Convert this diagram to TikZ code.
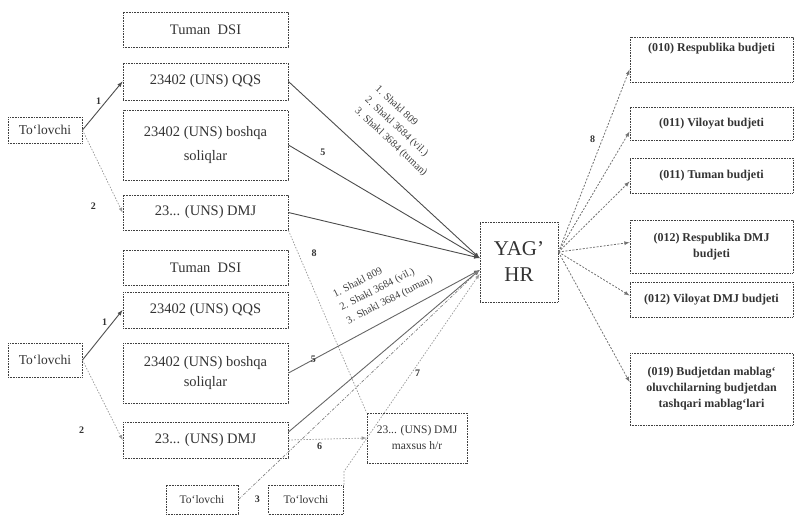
\documentclass[tikz,border=0pt]{standalone}
\usepackage{fontspec}
\setmainfont{Liberation Serif}
\begin{document}
\begin{tikzpicture}[
        x=1pt, y=-1pt, % координаты в пикселях, ось y вниз
        schet/.style={draw=black!75, line width=0.9pt, dash pattern=on 0.9pt off 0.7pt, text=black!80,
            minimum width=165pt, align=center, inner sep=2pt, font=\fontsize{14.5}{24}\selectfont}, % счета
        tolov/.style={schet, minimum width=74pt, font=\fontsize{13.5}{16}\selectfont}, % плательщик
        budjet/.style={schet, minimum width=163pt, font=\bfseries\fontsize{12}{16}\selectfont}, % бюджеты справа
        potok/.style={draw=black!70, line width=0.9pt, -latex}, % сплошные стрелки
        punktir/.style={draw=black!40, line width=0.7pt, dash pattern=on 1.5pt off 1.5pt, -latex}, % пунктир
        vyhod/.style={draw=black!55, line width=0.8pt, dash pattern=on 2pt off 1.5pt, -latex}, % стрелки к бюджетам
        metka/.style={font=\bfseries\fontsize{10}{12}\selectfont, text=black!80, inner sep=1pt}, % номера потоков
        podpis/.style={align=left, inner sep=0pt, text=black!75, font=\fontsize{10.5}{15}\selectfont},
    ]
    \useasboundingbox (0,0) rectangle (794,515);

    % верхняя группа
    \node[schet, minimum height=35pt] (dsiA) at (205.5,29.5) {Tuman\ \ DSI};
    \node[schet, minimum height=37pt] (qqsA) at (205.5,81.5) {23402 (UNS) QQS};
    \node[schet, minimum height=70pt] (bosA) at (205.5,145) {23402 (UNS) boshqa\\soliqlar};
    \node[schet, minimum height=35pt] (dmjA) at (205.5,212.5) {23... (UNS) DMJ};
    \node[tolov, minimum height=26pt] (tolA) at (45,130) {To‘lovchi};

    % нижняя группа
    \node[schet, minimum height=35pt] (dsiB) at (205.5,267.5) {Tuman\ \ DSI};
    \node[schet, minimum height=36pt] (qqsB) at (205.5,310) {23402 (UNS) QQS};
    \node[schet, minimum height=60pt, font=\fontsize{14.5}{20}\selectfont] (bosB) at (205.5,373) {23402 (UNS) boshqa\\soliqlar};
    \node[schet, minimum height=36pt] (dmjB) at (205.5,440) {23... (UNS) DMJ};
    \node[tolov, minimum height=34pt] (tolB) at (45,360) {To‘lovchi};
    \node[tolov, minimum width=72pt, minimum height=29pt, font=\fontsize{11.5}{14}\selectfont] (tolC) at (202,499.5) {To‘lovchi};
    \node[tolov, minimum width=75pt, minimum height=29pt, font=\fontsize{11.5}{14}\selectfont] (tolD) at (306,499.5) {To‘lovchi};
    \node[schet, minimum width=100pt, minimum height=50pt, font=\fontsize{11.5}{16}\selectfont] (maxsus) at (417,438) {23... (UNS) DMJ\\maxsus h/r};

    % центр
    \node[schet, minimum width=78pt, minimum height=80pt, font=\fontsize{21}{26}\selectfont] (yag) at (519,262) {YAG’\\HR};

    % бюджеты
    \node[budjet, minimum height=45pt] (rA) at (711.5,59.5) {(010) Respublika budjeti\\[8pt]\mbox{}};
    \node[budjet, minimum height=33pt] (rB) at (711.5,123.5) {(011) Viloyat budjeti};
    \node[budjet, minimum height=35pt] (rC) at (711.5,175.5) {(011) Tuman budjeti};
    \node[budjet, minimum height=53pt] (rD) at (711.5,246.5) {(012) Respublika DMJ\\budjeti};
    \node[budjet, minimum height=35pt] (rE) at (711.5,299.5) {(012) Viloyat DMJ budjeti};
    \node[budjet, minimum height=72pt] (rF) at (711.5,389) {(019) Budjetdan mablag‘\\oluvchilarning budjetdan\\tashqari mablag‘lari};

    % плательщик -> счета
    \draw[potok] (tolA.east) -- (qqsA.west) node[metka, midway, above left=0pt] (m1a) {1};
    \draw[punktir] (tolA.east) -- (dmjA.west) node[metka, pos=0.92, left=22pt] (m2a) {2};
    \draw[potok] (tolB.east) -- (qqsB.west) node[metka, pos=0.75, left=4pt] (m1b) {1};
    \draw[punktir] (tolB.east) -- (dmjB.west) node[metka, pos=0.875, left=32pt] (m2b) {2};

    % счета -> YAG' HR
    \draw[potok] (qqsA.east) -- ([yshift=4pt]yag.west);
    \draw[potok] (bosA.east) -- ([yshift=4pt]yag.west) node[metka, pos=0.18, above=8pt] (m5a) {5};
    \draw[potok] (dmjA.east) -- ([yshift=4pt]yag.west);
    \draw[punktir, -] (dmjA.south east) -- (maxsus.north west) node[metka, pos=0.125, right=12pt] (m8a) {8};
    \draw[potok, draw=black!60] (bosB.east) -- ([yshift=-8pt]yag.west) node[metka, pos=0.13] (m5b) {5};
    \draw[potok, draw=black!60] ([yshift=8pt]dmjB.east) -- ([yshift=-8pt]yag.west);
    \draw[punktir] (dmjB.east) -- (maxsus.west) node[metka, pos=0.4, below=2pt] (m6) {6};
    \draw[punktir, draw=black!50, dash pattern=on 3pt off 1.5pt on 0.8pt off 1.5pt] (tolC.east) -- ([yshift=-8pt]yag.west) node[metka, pos=0, right=15pt] (m3) {3};
    \draw[punktir] (tolD.north east) -- ++(0,-13) -- ([yshift=-12pt]yag.west) node[metka, pos=0.5, right=2pt] (m7) {7};

    % формы отчетности
    \node[podpis, rotate=-43] (formA) at (401,131) {1. Shakl 809\\2. Shakl 3684 (vil.)\\3. Shakl 3684 (tuman)};
    \node[podpis, rotate=27] (formB) at (383,287) {1. Shakl 809\\2. Shakl 3684 (vil.)\\3. Shakl 3684 (tuman)};

    % YAG' HR -> бюджеты
    \coordinate (out) at ([yshift=10pt]yag.east);
    \draw[vyhod] (out) -- ([yshift=-10pt]rA.west) node[metka, pos=0.62, left=6pt] (m8b) {8};
    \draw[vyhod] (out) -- ([yshift=-8pt]rB.west);
    \draw[vyhod] (out) -- ([yshift=-6pt]rC.west);
    \draw[vyhod] (out) -- ([yshift=4pt]rD.west);
    \draw[vyhod] (out) -- ([yshift=4pt]rE.west);
    \draw[vyhod] (out) -- ([yshift=7pt]rF.west);
\end{tikzpicture}
\end{document}
